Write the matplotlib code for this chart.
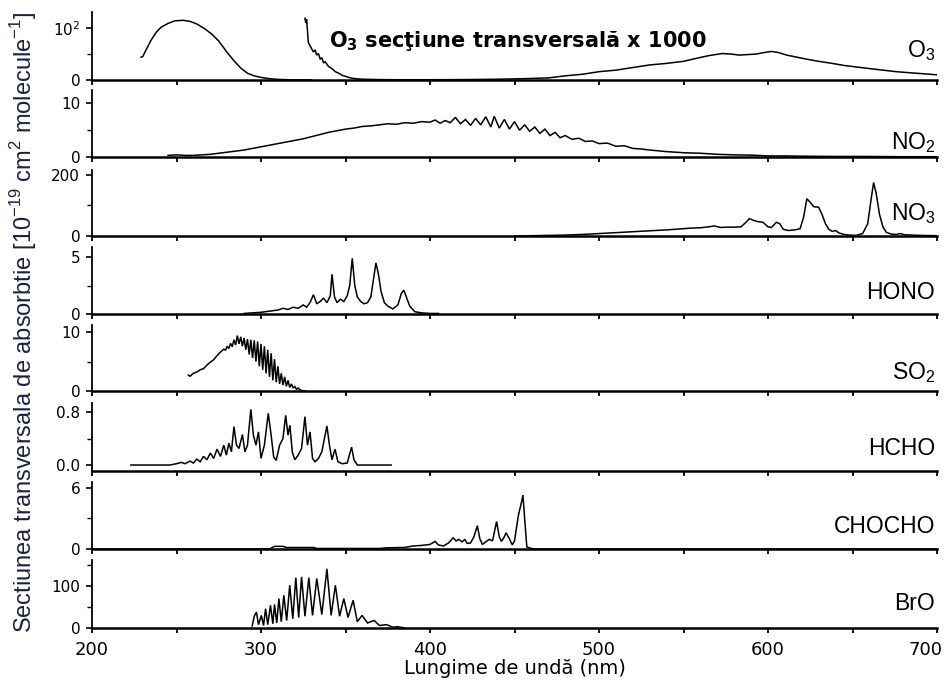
import matplotlib
matplotlib.use('Agg')
import matplotlib.pyplot as plt
import matplotlib.transforms as mtransforms
from matplotlib.ticker import FixedLocator

plt.rcParams['font.family'] = ['DejaVu Sans']
plt.rcParams['mathtext.fontset'] = 'custom'
plt.rcParams['mathtext.rm'] = 'DejaVu Sans'
plt.rcParams['mathtext.it'] = 'DejaVu Sans:italic'
plt.rcParams['mathtext.bf'] = 'DejaVu Sans:bold'

# ---------------- data ----------------
o3_nm = [229, 230, 232, 235, 238, 241, 245, 249, 254, 258, 262, 267, 271, 275, 280, 284, 288, 292,
         296, 300, 305, 310, 315, 320, 325, 330]
o3_val = [44, 45, 58, 77, 92, 102, 109, 114, 115, 113, 108, 98, 88, 75, 53, 37, 23, 13,
          8, 5, 2.5, 1.2, 0.6, 0.3, 0.2, 0.1]

o3k_nm = [326, 326.5, 327, 327.5, 328, 329, 330, 331, 332, 333, 334, 335, 336, 337, 338, 340, 342, 344,
          346, 348, 350, 353, 356, 360, 370, 380, 400, 420, 440, 455, 470, 480, 490, 500, 510, 520,
          530, 540, 550, 558, 565, 573, 578, 583, 588, 593, 598, 602, 606, 611, 617, 623, 630, 638,
          645, 650, 660, 668, 676, 684, 692, 700]
o3k_val = [119, 110, 117, 95, 72, 66, 60, 54, 58, 48, 51, 40, 43, 33, 35, 26, 22, 16,
           13, 9, 7, 4, 2.5, 1.5, 0.8, 0.5, 0.5, 0.8, 1.5, 2.5, 4, 8, 11, 16, 19, 24,
           29, 32, 36, 42, 47, 51, 50, 48, 49, 50, 53, 55, 53, 48, 44, 40, 36, 32,
           28, 26, 22, 19, 16, 14, 12, 10]

no2_nm = [245, 250, 255, 260, 265, 270, 275, 280, 285, 290, 295, 300, 305, 310, 315, 320, 325, 330,
          335, 340, 345, 350, 355, 360, 365, 370, 375, 380, 385, 390, 395, 400, 403, 406, 409, 412,
          415, 418, 421, 424, 427, 430, 433, 436, 438, 441, 444, 447, 450, 453, 456, 459, 462, 465,
          468, 471, 474, 477, 480, 484, 488, 492, 496, 500, 505, 510, 515, 520, 525, 530, 540, 550,
          560, 570, 580, 590, 600, 610, 620, 640, 660, 680, 700]
no2_val = [0.3, 0.4, 0.3, 0.3, 0.4, 0.5, 0.7, 0.9, 1.1, 1.3, 1.6, 1.9, 2.2, 2.5, 2.8, 3.1, 3.4, 3.8,
           4.2, 4.6, 4.9, 5.2, 5.4, 5.7, 5.8, 6.0, 6.2, 6.1, 6.4, 6.3, 6.6, 6.5, 6.9, 6.3, 6.8, 6.4,
           7.4, 6.2, 7.0, 5.9, 7.2, 6.0, 7.5, 5.6, 7.6, 5.4, 7.0, 5.2, 6.6, 5.0, 6.0, 4.8, 5.6, 4.4,
           5.2, 4.0, 4.6, 3.6, 4.0, 3.3, 3.5, 2.9, 3.0, 2.5, 2.6, 2.0, 2.1, 1.6, 1.5, 1.3, 1.0, 0.8,
           0.7, 0.5, 0.4, 0.35, 0.2, 0.2, 0.15, 0.1, 0.1, 0.05, 0.05]

no3_nm = [450, 460, 470, 480, 490, 500, 510, 520, 530, 540, 545, 550, 555, 560, 565, 568, 572, 576,
          580, 584, 587, 589, 591, 594, 597, 600, 602, 605, 607, 609, 612, 616, 619, 621, 623, 625,
          627, 630, 632, 634, 636, 638, 640, 642, 645, 648, 652, 656, 659, 661, 662.5, 664, 666, 668,
          670, 673, 676, 678, 681, 690, 700]
no3_val = [0, 1, 2, 3, 5, 8, 11, 14, 17, 20, 22, 24, 26, 27, 30, 33, 28, 29,
           29, 30, 45, 57, 52, 47, 45, 30, 28, 45, 40, 22, 18, 20, 24, 60, 122, 110,
           96, 94, 70, 40, 22, 15, 18, 10, 5, 3, 2, 8, 40, 120, 175, 140, 70, 30,
           12, 6, 5, 8, 4, 2, 1]

hono_nm = [290, 295, 300, 305, 310, 313, 316, 319, 322, 325, 327, 329, 331, 333, 335, 337, 339, 341,
           342, 343.5, 345, 347, 349, 351, 352.5, 354, 355.5, 357, 359, 361, 363, 365, 367, 368,
           369.5, 371, 373, 375, 378, 381, 383, 384.5, 386, 388, 391, 395, 400, 405]
hono_val = [0.05, 0.1, 0.15, 0.25, 0.35, 0.5, 0.4, 0.6, 0.5, 0.8, 0.6, 1.0, 1.7, 0.9, 1.1, 1.4, 1.0, 1.6,
            3.5, 1.5, 1.0, 1.3, 1.1, 1.6, 2.5, 4.9, 2.5, 1.5, 1.1, 0.9, 1.0, 1.5, 3.5, 4.5,
            3.5, 2.0, 1.0, 0.7, 0.45, 0.8, 1.8, 2.1, 1.5, 0.7, 0.2, 0.1, 0.05, 0.05]

so2_nm = [257, 258, 260, 262, 264, 266, 268, 270, 272, 274, 276, 278, 279, 280, 281, 282, 283, 284,
          285, 286, 287, 288, 289, 290, 291, 292, 293, 294, 295, 296, 297, 298, 299, 300, 301, 302,
          303, 304, 305, 306, 307, 308, 309, 310, 311, 312, 313, 314, 315, 316, 317, 318, 319, 320,
          321, 322, 323, 324, 326]
so2_val = [2.7, 2.5, 3.0, 3.2, 3.6, 3.8, 4.4, 4.9, 5.3, 6.0, 6.6, 7.1, 6.9, 7.6, 7.2, 8.1, 7.5, 8.7,
           7.8, 9.4, 8.0, 9.2, 7.6, 9.0, 7.0, 8.8, 6.2, 8.7, 5.6, 8.6, 5.0, 8.4, 4.2, 8.0, 3.6, 7.6,
           3.0, 7.0, 2.4, 6.4, 1.8, 5.4, 1.5, 4.2, 1.2, 3.0, 1.0, 2.4, 0.8, 1.8, 0.6, 1.2, 0.5, 0.8,
           0.3, 0.5, 0.2, 0.1, 0.0]

hcho_nm = [223, 246, 250, 253, 255, 258, 260, 262, 264, 266, 268, 270, 272, 274, 276, 278, 279.5, 281,
           282.5, 284, 285.5, 287, 289, 290.5, 292, 294, 295.5, 297, 298.5, 300, 302, 304.3, 306,
           307.5, 309, 311, 313, 314.6, 316, 317.1, 318.5, 320, 322, 324, 326, 327.5, 329, 330.5,
           332, 334, 336, 339, 340.5, 342, 343.8, 345.5, 348, 351, 353.6, 355, 357, 377]
hcho_val = [0, 0, 0.02, 0.04, 0.02, 0.06, 0.03, 0.09, 0.05, 0.13, 0.08, 0.18, 0.10, 0.24, 0.13, 0.30, 0.15, 0.33,
            0.20, 0.58, 0.30, 0.25, 0.46, 0.20, 0.30, 0.84, 0.45, 0.30, 0.50, 0.10, 0.30, 0.78, 0.45,
            0.12, 0.07, 0.30, 0.40, 0.75, 0.45, 0.60, 0.20, 0.08, 0.15, 0.25, 0.73, 0.30, 0.50, 0.10,
            0.05, 0.10, 0.20, 0.59, 0.30, 0.08, 0.24, 0.05, 0.02, 0.03, 0.27, 0.08, 0.0, 0.0]

chocho_nm = [200, 305, 308, 313, 315, 331, 333, 370, 375, 385, 390, 395, 400, 403, 405, 408, 411, 413.7,
             415.5, 417, 419, 420.6, 422, 424, 426, 428, 429.5, 431, 433, 435, 437, 439.4, 441, 442.3,
             444, 445, 447, 448.7, 450, 452.3, 454, 455, 456, 457.3, 460, 462, 700]
chocho_val = [0, 0, 0.26, 0.26, 0.15, 0.15, 0.05, 0.05, 0.12, 0.15, 0.3, 0.35, 0.45, 0.75, 0.4, 0.3, 0.6, 1.1,
              0.8, 0.95, 0.7, 0.95, 0.55, 0.6, 1.2, 2.3, 1.0, 0.45, 0.7, 0.95, 0.8, 2.7, 1.2, 0.75,
              1.2, 1.6, 1.0, 0.4, 0.8, 3.3, 4.5, 5.3, 3.0, 0.2, 0.05, 0, 0]

bro_nm = [294.8, 296, 297.3, 298.5, 300.2, 301.5, 302.7, 304, 305.6, 307, 308, 309.3, 310.6, 312, 313.5,
          315.2, 317, 318.8, 320.6, 322.3, 324, 326, 328.3, 330.5, 333, 336, 339, 341.5, 344, 346.5,
          349, 351.5, 354.5, 357, 359.8, 363, 367, 370, 374.3, 378, 381, 385]
bro_val = [5, 28, 38, 8, 30, 6, 46, 8, 54, 10, 56, 12, 70, 15, 78,
           18, 102, 22, 120, 25, 122, 28, 120, 30, 118, 32, 141, 30, 102, 28,
           70, 25, 66, 15, 30, 12, 18, 6, 8, 2, 3, 0]

species = [r'O$_\mathregular{3}$', r'NO$_\mathregular{2}$', r'NO$_\mathregular{3}$', 'HONO',
           r'SO$_\mathregular{2}$', 'HCHO', 'CHOCHO', 'BrO']
series = [[(o3_nm, o3_val), (o3k_nm, o3k_val)], [(no2_nm, no2_val)], [(no3_nm, no3_val)],
          [(hono_nm, hono_val)], [(so2_nm, so2_val)], [(hcho_nm, hcho_val)],
          [(chocho_nm, chocho_val)], [(bro_nm, bro_val)]]
ylims = [(0, 131), (0, 12.5), (0, 216), (0, 5.9), (0, 11.2), (-0.09, 0.936), (0, 6.59), (0, 162)]
yticks_major = [[0, 100], [0, 10], [0, 200], [0, 5], [0, 10], [0.0, 0.8], [0, 6], [0, 100]]
yticklabels = [['0', r'10$^\mathregular{2}$'], ['0', '10'], ['0', '200'], ['0', '5'], ['0', '10'],
               ['0.0', '0.8'], ['0', '6'], ['0', '100']]
yticks_minor = [[50], [5], [100], [2.5], [5], [0.4], [3], [50, 150]]
xticks = [200, 250, 300, 350, 400, 450, 500, 550, 600, 650, 700]
xticklabels = ['200', '', '300', '', '400', '', '500', '', '600', '', '700']

# ---------------- layout ----------------
W, H = 947, 682
panel_px = [(12, 80), (90, 157), (170, 236), (247, 314), (325, 391), (403, 471), (482, 549), (560, 628)]
label_y = [0.33, 0.12, 0.24, 0.23, 0.18, 0.24, 0.24, 0.26]

fig = plt.figure(figsize=(W / 100, H / 100), dpi=100)
axes = []
for i, (top, bot) in enumerate(panel_px):
    ax = fig.add_axes([92 / W, 1 - bot / H, 845 / W, (bot - top) / H])
    for nm, val in series[i]:
        ax.plot(nm, val, color='black', lw=1.1, solid_joinstyle='miter')
    ax.set_xlim(200, 700)
    ax.set_ylim(*ylims[i])
    ax.spines['top'].set_visible(False)
    ax.spines['right'].set_visible(False)
    ax.spines['left'].set_linewidth(1.3)
    ax.spines['bottom'].set_linewidth(1.8)
    ax.set_xticks(xticks)
    if i == len(panel_px) - 1:
        ax.set_xticklabels(xticklabels, fontsize=13)
    else:
        ax.set_xticklabels([])
    ax.set_yticks(yticks_major[i])
    ax.set_yticklabels(yticklabels[i], fontsize=11)
    ax.yaxis.set_minor_locator(FixedLocator(yticks_minor[i]))
    ax.tick_params(axis='x', direction='out', length=3.5, width=1.3, pad=6)
    ax.tick_params(axis='y', which='major', direction='out', length=4.5, width=1.2, pad=4)
    ax.tick_params(axis='y', which='minor', direction='out', length=3.5, width=1.0)
    ax.text(0.998, label_y[i], species[i], transform=ax.transAxes, ha='right', va='baseline',
            fontsize=16.5, family='Liberation Sans')
    axes.append(ax)

# last x tick label kept inside the figure, as in the reference (right edge ~6 px past the axis end)
last_lbl = axes[-1].get_xticklabels()[-1]
last_lbl.set_horizontalalignment('right')
last_lbl.set_transform(last_lbl.get_transform() +
                       mtransforms.ScaledTranslation(6 / 100, 0, fig.dpi_scale_trans))

axes[0].text(340, 63, r'O$_\mathbf{3}$ secţiune transversală x 1000', fontsize=15,
             fontweight='bold', family='DejaVu Sans', ha='left', va='baseline')

axes[-1].set_xlabel('Lungime de undă (nm)', fontsize=14, labelpad=0)

fig.text(24 / W, 1 - 322 / H,
         r'Sectiunea transversala de absorbtie [10$^\mathregular{-19}$ cm$^\mathregular{2}$ molecule$^\mathregular{-1}$]',
         rotation=90, ha='center', va='center', fontsize=17, color='#1a2244',
         family=['Liberation Sans', 'DejaVu Sans'])

fig.savefig('out.png', dpi=100)
